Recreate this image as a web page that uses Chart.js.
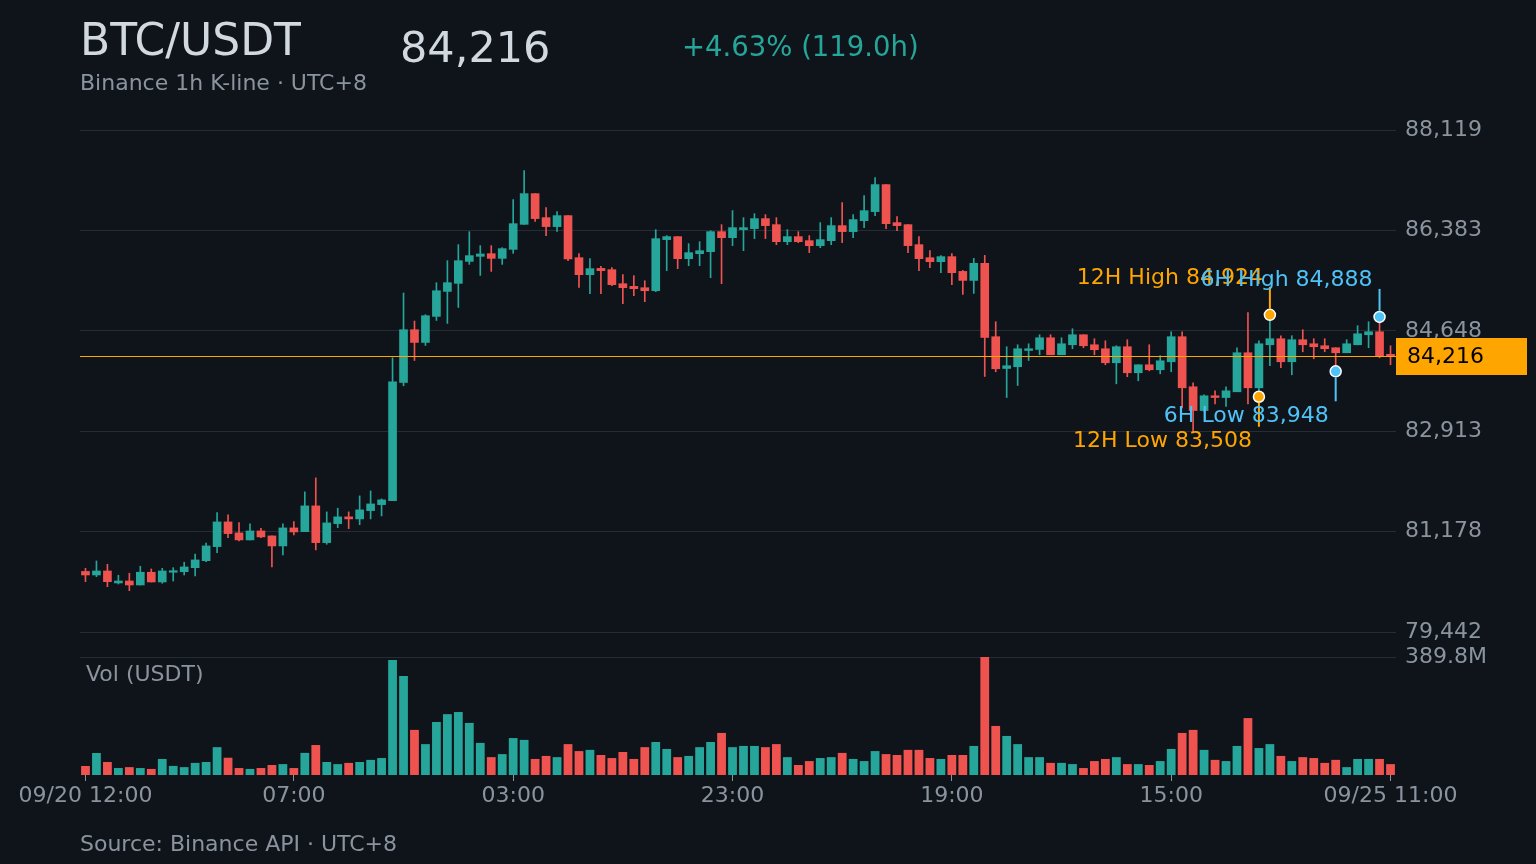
<!DOCTYPE html>
<html>
<head>
<meta charset="utf-8">
<title>BTC/USDT 1h</title>
<script src="https://cdn.jsdelivr.net/npm/chart.js@4.4.1/dist/chart.umd.min.js"></script>
<style>
  html, body { margin: 0; padding: 0; background: #0f141b; }
  body { width: 1536px; height: 864px; position: relative; overflow: hidden; font-family: 'DejaVu Sans', sans-serif; }
  canvas { position: absolute; left: 0; top: 0; }
  .txt { position: absolute; white-space: nowrap; line-height: 1; z-index: 2; }
</style>
</head>
<body>
<canvas id="priceChart" width="1536" height="864"></canvas>
<canvas id="volChart" width="1536" height="864"></canvas>

<div class="txt" style="left:80px; top:18px; font-size:44px; color:#d1d8e0;">BTC/USDT</div>
<div class="txt" style="left:400px; top:26px; font-size:43px; color:#d1d8e0;">84,216</div>
<div class="txt" style="left:682px; top:33px; font-size:27.5px; color:#26a69a;">+4.63% (119.0h)</div>
<div class="txt" style="left:80px; top:72px; font-size:22px; color:#8b949e;">Binance 1h K-line · UTC+8</div>
<div class="txt" style="left:86px; top:663px; font-size:22px; color:#8b949e;">Vol (USDT)</div>
<div class="txt" style="left:80px; top:833px; font-size:22px; color:#8b949e;">Source: Binance API · UTC+8</div>

<script>
// hourly candles, 09/20 12:00 -> 09/25 11:00 (UTC+8)
const hours = [];
for (let i = 0; i < 120; i++) {
  const h = (12 + i) % 24;
  const d = 20 + Math.floor((12 + i) / 24);
  hours.push('09/' + d + ' ' + String(h).padStart(2, '0') + ':00');
}

const opens = [80489,80428,80497,80290,80324,80255,80475,80307,80475,80485,
  80554,80675,80918,81345,81155,81034,81189,81103,80930,81241,
  81177,81622,80987,81316,81432,81397,81540,81644,81713,83755,
  84667,84447,84897,85329,85468,85848,85935,85981,85900,86056,
  86488,87019,86604,86449,86639,85912,85618,85727,85705,85462,
  85416,85393,85341,86224,86276,85895,85981,86016,86362,86258,
  86397,86414,86587,86483,86189,86276,86206,86120,86206,86466,
  86362,86552,86708,87175,86518,86483,86137,85912,85843,85930,
  85675,85519,85814,84546,83997,84027,84308,84326,84528,84234,
  84407,84580,84407,84338,84096,84373,83923,84061,83975,84113,
  84546,83681,83270,83525,83495,83594,84269,83663,84407,84511,
  84113,84494,84424,84390,84355,84269,84407,84580,84632,84217];

const closes = [80428,80497,80312,80324,80255,80475,80307,80497,80502,80567,
  80688,80930,81345,81143,81034,81189,81086,80930,81241,81172,
  81622,80987,81328,81432,81397,81553,81656,81726,83767,84667,
  84447,84909,85341,85480,85860,85947,85976,85900,86068,86500,
  87019,86587,86449,86639,85890,85618,85722,85687,85445,85393,
  85376,85341,86241,86276,85895,85999,86033,86362,86258,86431,
  86431,86587,86466,86189,86276,86189,86120,86224,86466,86362,
  86570,86725,87175,86500,86466,86120,85895,85843,85930,85653,
  85519,85814,84533,83992,84044,84338,84338,84528,84234,84424,
  84580,84390,84321,84096,84373,83923,84061,83975,84130,84546,
  83663,83270,83525,83495,83611,84269,83663,84424,84511,84113,
  84494,84407,84373,84338,84269,84424,84597,84632,84217,84216];

const highs = [80544,80670,80613,80423,80458,80579,80532,80544,80554,80648,
  80791,80977,81506,81466,81333,81310,81236,81103,81310,81350,
  81864,82106,81518,81582,81518,81795,81881,81743,84182,85302,
  84817,84926,85480,85860,86137,86362,86120,86120,86085,86916,
  87417,87019,86777,86708,86639,85981,85895,85762,85739,85618,
  85601,85514,86397,86293,86276,86154,86189,86379,86483,86725,
  86604,86673,86656,86604,86397,86362,86293,86518,86604,86864,
  86656,86985,87296,87175,86622,86483,86276,86033,85947,85981,
  85692,85900,85952,84805,84373,84407,84424,84580,84580,84528,
  84684,84580,84511,84476,84390,84494,84061,84407,84217,84632,
  84632,83750,83542,83611,83681,84355,84961,84476,84924,84563,
  84563,84667,84511,84511,84355,84494,84736,84805,84888,84390];

const lows = [80312,80399,80226,80272,80156,80255,80307,80285,80324,80428,
  80411,80658,80814,81073,81016,81034,81073,80567,80774,81120,
  81177,80861,80959,81246,81229,81298,81397,81449,81713,83698,
  84135,84395,84827,84776,85052,85796,85606,85675,85796,85987,
  86488,86540,86293,86367,85860,85398,85289,85289,85428,85116,
  85255,85151,85324,85687,85722,85774,85774,85566,85462,86120,
  86033,86241,86241,86137,86137,86172,85999,86085,86137,86172,
  86258,86431,86639,86414,86379,85999,85687,85739,85653,85445,
  85277,85295,83859,83940,83495,83703,84135,84234,84234,84234,
  84338,84355,84234,84061,83732,83854,83784,83957,83905,83940,
  83317,82885,83253,83386,83340,83594,83386,83508,84044,84009,
  83888,84286,84165,84286,83948,84269,84407,84355,84182,84061];

// volume in millions of USDT
const volumes = [29.7,72.7,43,23,26,23,20,53,30,26,
  40,43,92,57,23,20,23,33,36,23,
  73,99,43,36,40,43,50,56,380,327,
  149,102,175,201,208,172,106,59,69,122,
  116,53,63,59,102,79,83,66,56,76,
  53,92,109,86,59,63,92,109,139,92,
  96,96,92,102,59,33,46,56,59,73,
  53,46,79,69,66,83,83,56,53,66,
  66,96,389.8,162,129,102,59,59,40,40,
  36,23,46,53,59,36,36,33,46,86,
  139,149,83,50,46,96,188,89,102,63,
  46,59,56,40,50,26,53,53,53,36];

const lastPrice = 84216;

const priceMin = 79442.25;
const priceMax = 88118.75;
const priceTicks = [79442.25, 81177.55, 82912.85, 84648.15, 86383.45, 88118.75];
const priceTickLabels = ['79,442', '81,178', '82,913', '84,648', '86,383', '88,119'];
const volMax = 389.8;
const volTickLabel = '389.8M';

const tickIdx = [0, 19, 39, 59, 79, 99, 119];
const tickLabels = ['09/20 12:00', '07:00', '03:00', '23:00', '19:00', '15:00', '09/25 11:00'];

// 12H / 6H extremes
const markerIdx = [108, 107, 118, 114];
const markerVal = [84924, 83508, 84888, 83948];
const markerKind = ['high', 'low', 'high', 'low'];
const markerText = ['12H High 84,924', '12H Low 83,508', '6H High 84,888', '6H Low 83,948'];

const upColor = '#26a69a';
const downColor = '#ef5350';
const orange = '#ffa500';
const blue = '#4fc3f7';
const axisColor = '#8b949e';
const gridColor = '#262c33';
const markerColor = [orange, orange, blue, blue];

Chart.defaults.font.family = "'DejaVu Sans', sans-serif";

const candleColors = opens.map((o, i) => closes[i] >= o ? upColor : downColor);

// stems, labels, last price line and tag
const overlay = {
  id: 'overlay',
  afterDatasetsDraw(chart) {
    const { ctx, chartArea, scales: { x, y } } = chart;
    ctx.save();
    ctx.font = "22px 'DejaVu Sans'";
    ctx.textBaseline = 'middle';
    ctx.textAlign = 'right';
    markerIdx.forEach((k, j) => {
      const px = x.getPixelForValue(k);
      const py = y.getPixelForValue(markerVal[j]);
      const up = markerKind[j] === 'high';
      ctx.strokeStyle = markerColor[j];
      ctx.lineWidth = 2;
      ctx.beginPath();
      ctx.moveTo(px, py + (up ? -6 : 6));
      ctx.lineTo(px, py + (up ? -28 : 30));
      ctx.stroke();
      ctx.fillStyle = markerColor[j];
      ctx.fillText(markerText[j], px - 7, py + (up ? -37 : 45));
    });

    const cy = Math.round(y.getPixelForValue(lastPrice)) + 0.5;
    ctx.strokeStyle = orange;
    ctx.lineWidth = 1;
    ctx.beginPath();
    ctx.moveTo(chartArea.left, cy);
    ctx.lineTo(chartArea.right, cy);
    ctx.stroke();

    ctx.fillStyle = orange;
    ctx.fillRect(chartArea.right, cy - 18.5, 131, 37);
    ctx.fillStyle = '#000000';
    ctx.textAlign = 'left';
    ctx.fillText(lastPrice.toLocaleString('en-US'), chartArea.right + 11, cy + 1);
    ctx.restore();
  }
};

// Price panel
new Chart(document.getElementById('priceChart'), {
  type: 'bar',
  data: {
    labels: hours,
    datasets: [
      {
        label: 'wick',
        data: lows.map((l, i) => [l, highs[i]]),
        backgroundColor: candleColors,
        barThickness: 1,
        grouped: false,
        order: 3,
      },
      {
        label: 'body',
        data: opens.map((o, i) => [o, closes[i]]),
        backgroundColor: candleColors,
        barThickness: 8,
        minBarLength: 1.5,
        grouped: false,
        order: 2,
      },
      {
        type: 'line',
        label: 'extremes',
        data: markerIdx.map((k, j) => ({ x: hours[k], y: markerVal[j] })),
        showLine: false,
        pointRadius: 5.5,
        pointBackgroundColor: markerColor,
        pointBorderColor: '#ffffff',
        pointBorderWidth: 1.5,
        order: 1,
      },
    ],
  },
  options: {
    responsive: false,
    animation: false,
    layout: { padding: { left: 80, top: 130, right: 0, bottom: 232 } },
    plugins: { legend: { display: false }, tooltip: { enabled: false } },
    scales: {
      x: { display: false, offset: true },
      y: {
        position: 'right',
        min: priceMin,
        max: priceMax,
        afterFit: (s) => { s.width = 140; },
        afterBuildTicks: (s) => { s.ticks = priceTicks.map(v => ({ value: v })); },
        ticks: {
          callback: (v, i) => priceTickLabels[i],
          color: axisColor,
          font: { size: 22 },
          padding: 9,
        },
        grid: { color: gridColor, drawTicks: false },
        border: { display: false },
      },
    },
  },
  plugins: [overlay],
});

// Volume panel
new Chart(document.getElementById('volChart'), {
  type: 'bar',
  data: {
    labels: hours,
    datasets: [{
      label: 'Vol (USDT)',
      data: volumes,
      backgroundColor: candleColors,
      categoryPercentage: 0.8,
      barPercentage: 1.0,
    }],
  },
  options: {
    responsive: false,
    animation: false,
    layout: { padding: { left: 80, top: 657, right: 0, bottom: 0 } },
    plugins: { legend: { display: false }, tooltip: { enabled: false } },
    scales: {
      x: {
        offset: true,
        afterFit: (s) => { s.height = 89; },
        afterBuildTicks: (s) => { s.ticks = tickIdx.map(v => ({ value: v })); },
        ticks: {
          autoSkip: false,
          maxRotation: 0,
          callback: (v, i) => tickLabels[i],
          color: axisColor,
          font: { size: 22 },
          padding: 2,
        },
        grid: { offset: false, drawOnChartArea: false, drawTicks: true, tickLength: 6, tickColor: axisColor },
        border: { display: false },
      },
      y: {
        position: 'right',
        min: 0,
        max: volMax,
        afterFit: (s) => { s.width = 140; },
        afterBuildTicks: (s) => { s.ticks = [{ value: volMax }]; },
        ticks: {
          callback: () => volTickLabel,
          color: axisColor,
          font: { size: 22 },
          padding: 9,
        },
        grid: { color: gridColor, drawTicks: false },
        border: { display: false },
      },
    },
  },
});
</script>
</body>
</html>
